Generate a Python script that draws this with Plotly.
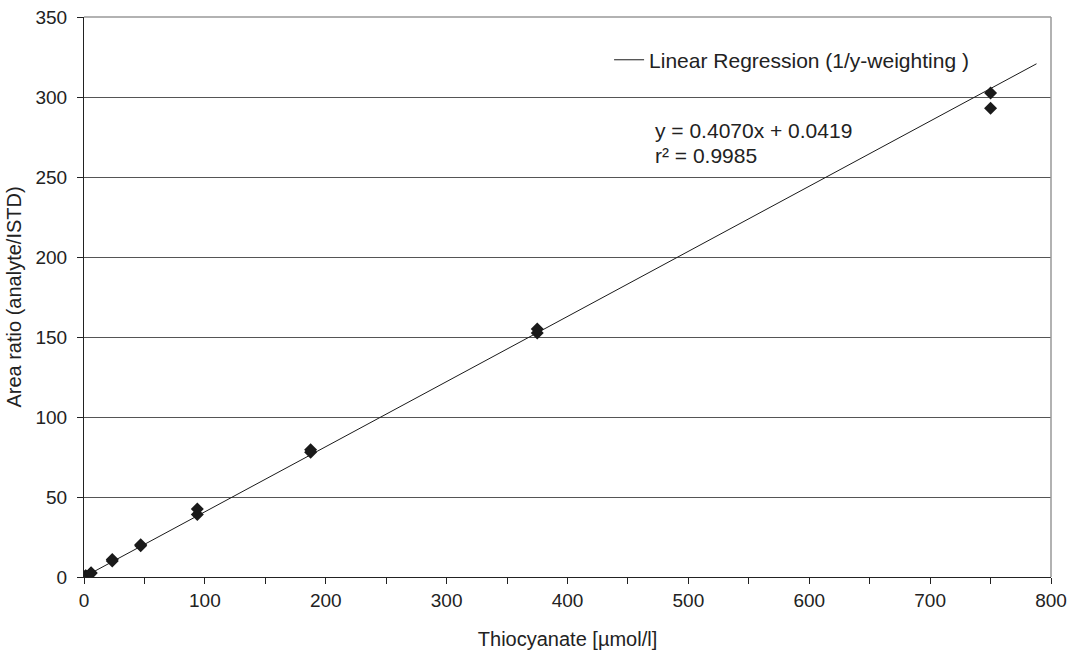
import plotly.graph_objects as go

conc = [0, 0, 1.46, 1.46, 5.86, 5.86, 23.4, 23.4, 46.9, 46.9, 93.75, 93.75, 187.5, 187.5, 375, 375, 750, 750]
ratio = [0.0, 0.2, 0.6, 0.8, 2.3, 2.6, 10.0, 11.0, 19.5, 20.2, 39.0, 42.5, 78.0, 79.5, 152.5, 155.0, 293.0, 302.5]

slope = 0.4070
intercept = 0.0419
fit_x = [0, 788]
fit_y = [slope * v + intercept for v in fit_x]

FONT = "Liberation Sans, Arial, sans-serif"

fig = go.Figure()
fig.add_trace(go.Scatter(x=fit_x, y=fit_y, mode="lines",
                         line=dict(color="#1a1a1a", width=1),
                         name="Linear Regression (1/y-weighting )"))
fig.add_trace(go.Scatter(x=conc, y=ratio, mode="markers",
                         marker=dict(symbol="diamond", size=10, color="#1a1a1a"),
                         showlegend=False))

fig.update_layout(
    template="none",
    width=1069, height=655,
    margin=dict(l=84, r=18, t=17, b=78, autoexpand=False),
    paper_bgcolor="white", plot_bgcolor="white",
    font=dict(family=FONT, size=19, color="#222"),
    showlegend=True,
    legend=dict(x=0.543, y=0.923, xanchor="left", yanchor="middle",
                bgcolor="rgba(0,0,0,0)", font=dict(size=21), itemwidth=30,
                borderwidth=0),
    xaxis=dict(range=[0, 800], dtick=100, tick0=0, showgrid=False, zeroline=False,
               automargin=False,
               showline=True, linecolor="#222", linewidth=1,
               ticks="outside", ticklen=6, tickcolor="#222",
               minor=dict(dtick=50, ticks="outside", ticklen=6, tickcolor="#222", showgrid=False),
               title=dict(text="Thiocyanate [µmol/l]", font=dict(size=20), standoff=22)),
    yaxis=dict(range=[0, 350], dtick=50, tick0=0, showgrid=True, gridcolor="#555", gridwidth=1,
               automargin=False,
               zeroline=False, showline=True, linecolor="#222", linewidth=1,
               ticks="outside", ticklen=6, tickcolor="#222", ticklabelstandoff=6,
               title=dict(text="Area ratio (analyte/ISTD)", font=dict(size=20), standoff=8)),
    shapes=[
        dict(type="line", xref="paper", yref="paper", x0=0, x1=1, y0=1, y1=1,
             line=dict(color="#999", width=1.5)),
        dict(type="line", xref="paper", yref="paper", x0=1, x1=1, y0=0, y1=1,
             line=dict(color="#999", width=1.5)),
    ],
    annotations=[
        dict(x=470.5, y=279, xref="x", yref="y", xanchor="left", yanchor="middle",
             text="y = 0.4070x + 0.0419", showarrow=False, font=dict(size=21)),
        dict(x=470.5, y=263.5, xref="x", yref="y", xanchor="left", yanchor="middle",
             text="r² = 0.9985", showarrow=False, font=dict(size=21)),
    ],
)

fig.write_html("out.html")
